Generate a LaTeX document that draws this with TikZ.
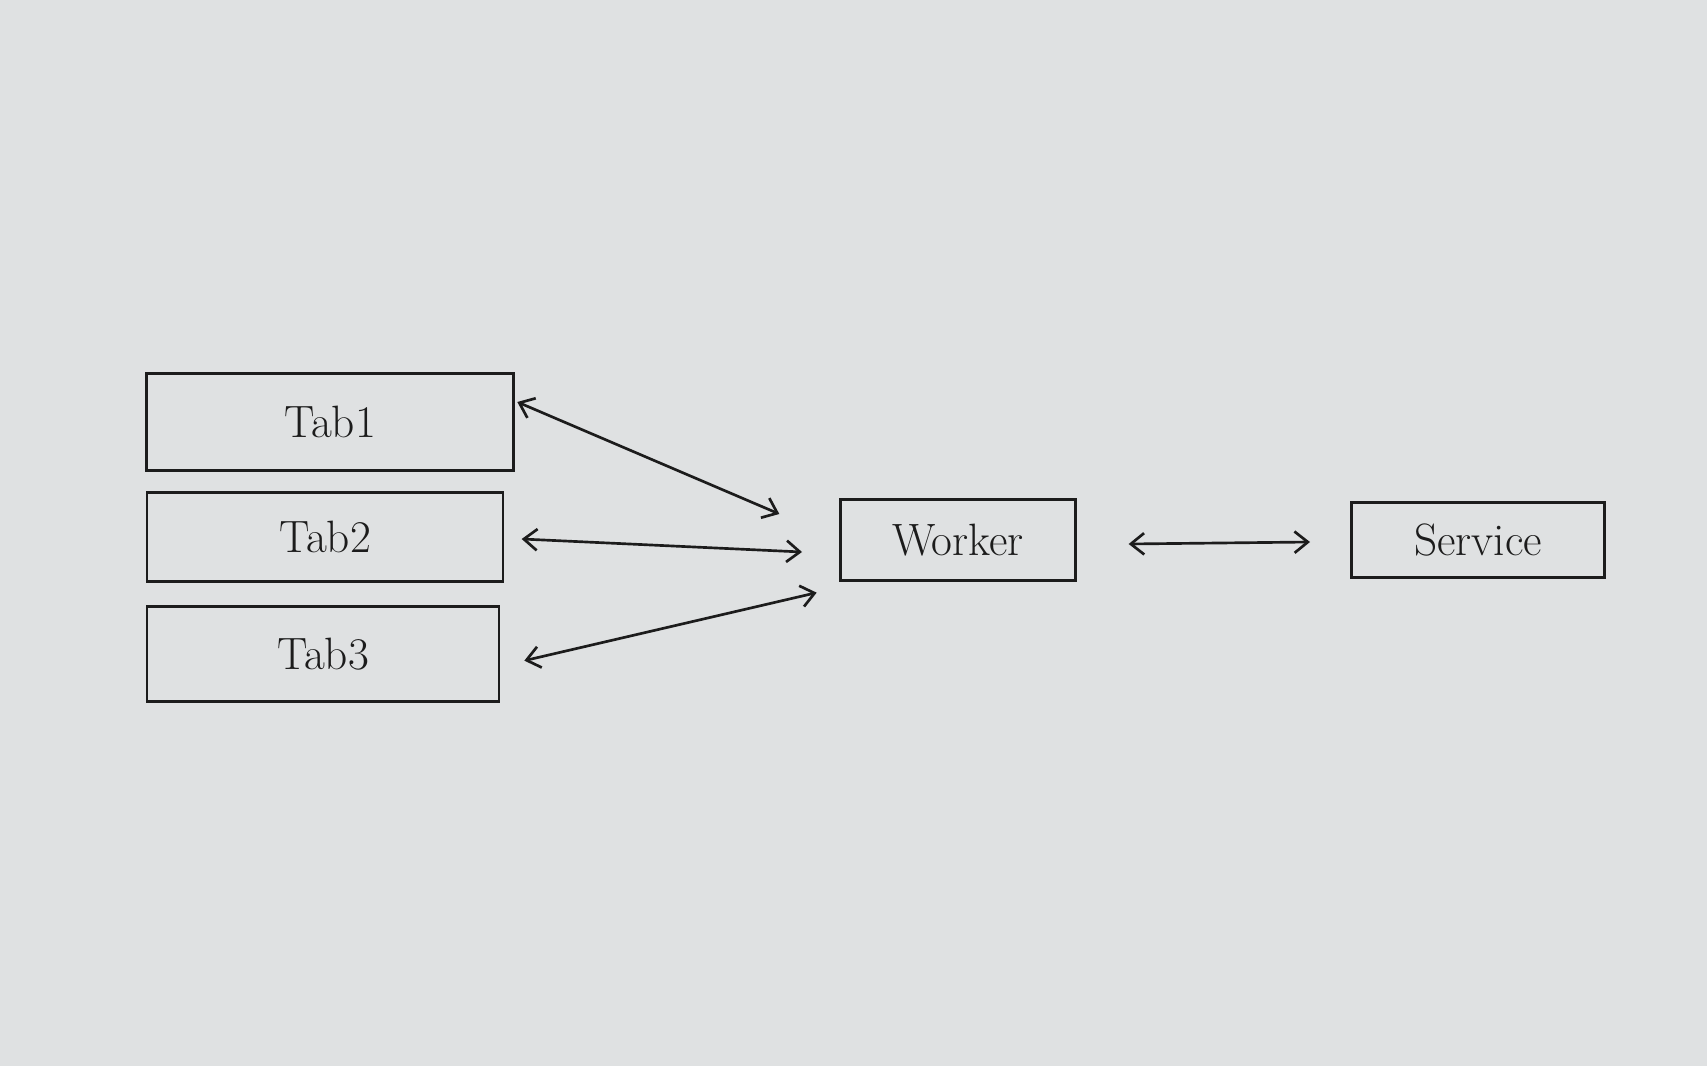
\documentclass[tikz,border=0pt]{standalone}
\usepackage{tikz}
\usetikzlibrary{arrows.meta}
\definecolor{paper}{RGB}{223,225,226}
\definecolor{ink}{RGB}{28,28,28}

\begin{document}
\begin{tikzpicture}[x=0.75pt,y=0.75pt,yscale=-1,xscale=1,
  box/.style={draw=ink, line width=2pt, rectangle, inner sep=0pt, font=\fontsize{34}{40}\selectfont, text=ink},
  link/.style={draw=ink, line width=2pt, {Straight Barb[length=10pt,width=16pt]}-{Straight Barb[length=10pt,width=16pt]}}]
%set diagram size to 1707 x 1066
\fill [paper] (0,0) rectangle (1707,1066);
\useasboundingbox (0,0) rectangle (1707,1066);

%Tabs
\node [box, minimum width=275pt, minimum height=73pt] (tab1) at (330,422) {Tab1};
\node [box, minimum width=267pt, minimum height=67pt] (tab2) at (325,537) {Tab2};
\node [box, minimum width=264pt, minimum height=71pt] (tab3) at (323,654) {Tab3};
%Worker and Service
\node [box, minimum width=176pt, minimum height=61pt] (worker) at (958,540) {Worker};
\node [box, minimum width=190pt, minimum height=56pt] (service) at (1478,540) {Service};

%Links
\draw [link] ([xshift=2pt,yshift=-15pt]tab1.east) -- ([xshift=-45pt,yshift=-19.5pt]worker.west);
\draw [link] ([xshift=13pt,yshift=1.5pt]tab2.east) -- ([xshift=-28pt,yshift=9pt]worker.west);
\draw [link] ([xshift=18pt,yshift=5pt]tab3.east) -- ([xshift=-17pt,yshift=8pt]worker.south west);
\draw [link] ([xshift=39pt,yshift=3pt]worker.east) -- ([xshift=-30pt,yshift=1.5pt]service.west);
\end{tikzpicture}
\end{document}
